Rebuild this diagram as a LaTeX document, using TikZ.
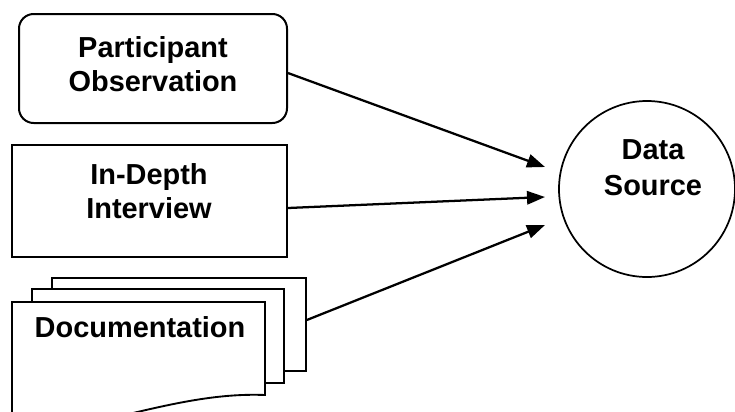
\documentclass[tikz,border=0pt]{standalone}
\usepackage{fontspec}
\setmainfont{Liberation Sans}
\usetikzlibrary{arrows.meta}

\begin{document}
\begin{tikzpicture}[x=0.75pt,y=-0.75pt,
    box/.style={draw,line width=1.5pt,inner sep=0pt},
    page/.style={draw,line width=1.4pt,fill=white,inner sep=0pt},
    txt/.style={font=\bfseries\fontsize{21.7pt}{25.5pt}\selectfont,align=center},
    link/.style={line width=1.7pt,-{Triangle[length=13.5pt,width=10pt]}}]
    \clip (0,0) rectangle (735,411);
    \node[box,rounded corners=11pt,minimum width=201pt,minimum height=81.75pt] (obs) at (153,68.5) {};
    \node[txt] (obstxt) at (153,64.5) {Participant\\Observation};
    \node[box,minimum width=206.25pt,minimum height=84pt] (intv) at (149.5,201) {};
    \node[txt] (intvtxt) at (149,191.5) {In-Depth\\Interview};
    \node[page,minimum width=190.5pt,minimum height=69.75pt] (back) at (179,324.5) {};
    \node[page,minimum width=189pt,minimum height=70.5pt] (mid) at (158,336) {};
	\draw[page] (12,302) -- (265,302) -- (265,395) .. controls (190,392) and (120,420) .. (12,440) -- cycle;
    \node[txt] (doc) at (140,327) {Documentation};
    \node[draw,circle,line width=1.3pt,minimum size=132pt,inner sep=0pt] (src) at (647,189) {};
    \node[txt,font=\bfseries\fontsize{21.7pt}{27pt}\selectfont] (srctxt) at (653,168) {Data\\Source};
    \coordinate (in1) at (545,167);
    \coordinate (in2) at (545,197);
    \coordinate (in3) at (545,225);
	\draw[link] ([yshift=-3.4pt]obs.east) -- (in1);
	\draw[link] ([yshift=-5.25pt]intv.east) -- (in2);
	\draw[link] ([yshift=3.4pt]back.east) -- (in3);
\end{tikzpicture}
\end{document}
